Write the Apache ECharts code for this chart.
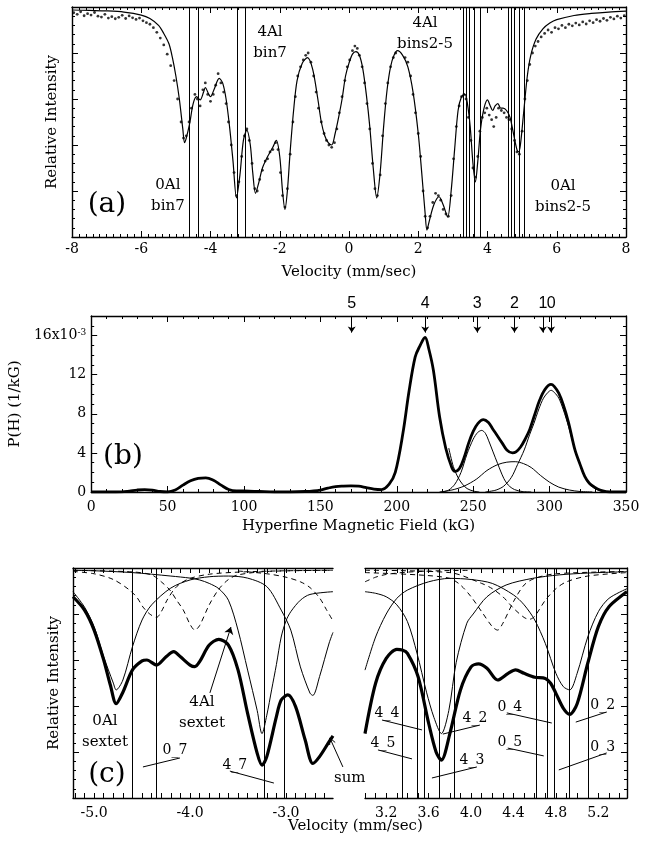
<!DOCTYPE html>
<html><head><meta charset="utf-8">
<script src="https://cdn.jsdelivr.net/npm/echarts@6/dist/echarts.min.js"></script>
<style>html,body{margin:0;padding:0;background:#fff}#c{width:651px;height:845px}</style>
</head><body><div id="c"></div>
<script>
// ---------- Panel (a): spectrum ----------
const fitA = [[-8,98.7],[-7.5,98.5],[-7,98.3],[-6.5,97.8],[-6,96.5],[-5.75,95],[-5.5,92],[-5.35,88.5],[-5.2,84],[-5.1,78],[-5,70],[-4.9,60],[-4.8,47],[-4.75,41],[-4.7,43],[-4.6,49.5],[-4.5,58],[-4.4,61],[-4.3,59.6],[-4.2,63],[-4.15,65],[-4.05,62],[-4,61],[-3.9,64],[-3.75,69],[-3.65,67],[-3.55,60],[-3.45,48],[-3.35,33],[-3.25,17],[-3.15,27],[-3.05,42],[-2.95,46.5],[-2.85,40],[-2.78,28],[-2.7,19],[-2.6,24],[-2.5,30],[-2.35,35],[-2.2,39],[-2.1,42],[-2,35],[-1.92,20],[-1.85,12],[-1.78,20],[-1.7,37],[-1.6,55],[-1.5,68],[-1.35,75.5],[-1.2,78],[-1.05,73],[-0.9,60],[-0.8,50],[-0.7,44],[-0.6,41],[-0.5,40],[-0.4,45],[-0.3,52],[-0.2,60],[-0.1,70],[0,75.6],[0.1,79.5],[0.2,80.6],[0.3,79],[0.4,73],[0.5,62],[0.6,48],[0.7,30],[0.8,17],[0.9,28],[1,48],[1.1,64],[1.2,74],[1.3,79],[1.4,81],[1.55,79],[1.7,74],[1.85,63],[2,45],[2.1,28],[2.2,10],[2.25,3],[2.32,7],[2.45,14],[2.6,17.5],[2.72,14],[2.85,8.7],[2.95,20],[3.05,38],[3.15,55],[3.25,61],[3.35,62],[3.42,58],[3.5,48],[3.58,32],[3.65,24],[3.72,33],[3.8,47],[3.9,56],[4,59.6],[4.08,57],[4.15,55],[4.22,57],[4.3,58],[4.38,56],[4.45,56],[4.55,55],[4.65,52],[4.75,45],[4.85,38],[4.9,37],[4.95,40],[5.05,55],[5.15,70],[5.25,79],[5.4,86],[5.6,90.5],[5.8,93],[6,94.5],[6.5,96.3],[7,97.2],[7.5,97.8],[8,98.2]];
const dotsA = [[-7.95,97.5],[-7.85,96.8],[-7.75,97.9],[-7.65,96.2],[-7.55,97.1],[-7.45,96.5],[-7.35,97.6],[-7.25,96.0],[-7.15,95.6],[-7.05,96.8],[-6.95,95.2],[-6.85,95.8],[-6.75,94.9],[-6.65,95.5],[-6.55,96.4],[-6.45,95.0],[-6.35,96.1],[-6.25,95.3],[-6.15,94.6],[-6.05,95.2],[-5.95,94.0],[-5.85,93.2],[-5.75,92.5],[-5.65,91.0],[-5.55,89.0],[-5.45,86.5],[-5.35,83.5],[-5.25,79.5],[-5.15,74.5],[-5.05,68],[-4.95,60],[-4.85,50],[-4.78,43],[-4.7,44],[-4.62,50],[-4.55,56],[-4.45,62],[-4.38,60],[-4.3,57],[-4.22,64],[-4.15,67],[-4.08,62],[-4.0,59],[-3.92,62],[-3.85,66],[-3.78,71],[-3.7,67],[-3.62,63],[-3.55,58],[-3.48,50],[-3.4,40],[-3.32,28],[-3.25,18],[-3.18,24],[-3.1,35],[-3.02,44],[-2.95,47],[-2.88,42],[-2.8,32],[-2.72,21],[-2.65,20],[-2.58,25],[-2.5,29],[-2.42,33],[-2.35,34],[-2.28,37],[-2.2,38],[-2.12,41],[-2.05,38],[-1.98,28],[-1.92,18],[-1.85,13],[-1.78,21],[-1.7,36],[-1.62,50],[-1.55,61],[-1.48,70],[-1.4,74],[-1.32,77],[-1.25,79],[-1.18,80],[-1.1,76],[-1.02,70],[-0.95,63],[-0.88,56],[-0.8,50],[-0.72,45],[-0.65,42],[-0.58,40],[-0.5,39],[-0.42,41],[-0.35,47],[-0.28,54],[-0.2,61],[-0.12,68],[-0.05,74],[0.02,77],[0.1,81],[0.17,83],[0.24,82],[0.3,79],[0.38,74],[0.45,67],[0.52,58],[0.6,47],[0.68,32],[0.75,21],[0.82,18],[0.9,27],[0.97,44],[1.05,58],[1.12,67],[1.2,74],[1.28,78],[1.35,80],[1.62,78],[1.7,76],[1.78,70],[1.85,62],[1.92,54],[2.0,45],[2.07,35],[2.14,20],[2.2,9],[2.27,4],[2.34,9],[2.42,15],[2.5,19],[2.58,18],[2.65,16],[2.72,12],[2.8,10],[2.87,9],[2.95,18],[3.02,34],[3.1,48],[3.18,57],[3.25,61],[3.32,62],[3.38,60],[3.45,52],[3.52,42],[3.58,30],[3.65,26],[3.72,35],[3.78,46],[3.85,52],[3.92,54],[3.98,56],[4.05,53],[4.12,51],[4.18,48],[4.25,52],[4.32,56],[4.4,55],[4.48,54],[4.55,52],[4.62,51],[4.7,47],[4.78,42],[4.85,37],[4.92,36],[5.0,46],[5.08,60],[5.15,68],[5.22,75],[5.3,80],[5.38,83],[5.46,85],[5.55,87],[5.65,88.5],[5.75,90],[5.85,89],[5.95,91],[6.05,90.5],[6.15,92],[6.25,91],[6.35,92.5],[6.45,91.8],[6.55,93],[6.65,92.2],[6.75,93.5],[6.85,92.6],[6.95,94],[7.05,93.2],[7.15,94.5],[7.25,93.8],[7.35,95],[7.45,94.2],[7.55,95.5],[7.65,94.8],[7.75,96],[7.85,95.2],[7.95,96.2]];
const binLinesA = [-4.6, -4.35, -3.22, -3.0, 3.31, 3.38, 3.47, 3.61, 3.79, 4.59, 4.68, 4.77, 4.92, 5.06];
const ticksA = [-8, -6, -4, -2, 0, 2, 4, 6, 8];

// ---------- Panel (b): field distribution (units 1e-3 / kG) ----------
const totalB = [[0,0],[10,0],[20,0.02],[25,0.1],[30,0.2],[35,0.25],[40,0.2],[45,0.05],[50,0],[55,0.2],[60,0.7],[65,1.15],[70,1.4],[75,1.45],[80,1.2],[85,0.7],[90,0.25],[95,0.1],[100,0.1],[110,0.05],[120,0],[130,0],[140,0.05],[150,0.2],[155,0.4],[160,0.55],[165,0.6],[170,0.62],[175,0.6],[180,0.45],[185,0.3],[190,0.25],[195,0.8],[199,2],[204,6],[208,10.3],[212,13.8],[215,14.9],[218.5,15.8],[221,14.6],[224,12.4],[228,7.7],[232,4.5],[236,2.5],[238,2.1],[241,2.4],[244,3.5],[247,5.0],[250,6.2],[253,7.0],[256.7,7.4],[260,7.1],[263,6.4],[266,5.7],[269,5.0],[272,4.3],[275.6,4.0],[278,4.1],[281,4.6],[284,5.4],[287,6.4],[290,7.8],[293.5,9.4],[297,10.5],[300.9,11.0],[303,10.8],[306,10.1],[309,8.9],[312.4,7.1],[316.6,4.3],[320,2.8],[323,1.6],[326,0.9],[329.4,0.5],[333,0.2],[337,0.05],[342,0],[350,0]];
const comp3B = [[230,0],[234,0.2],[238,0.8],[242,2.0],[246,3.9],[250,5.4],[253,6.1],[255.6,6.3],[258,6.0],[260,5.3],[263,4.1],[266,2.9],[270,1.4],[273,0.7],[277,0.25],[282,0.05],[288,0]];
const comp2B = [[228,0],[236,0.2],[244,0.6],[252,1.3],[259,2.2],[266,2.8],[272,3.05],[277.5,3.1],[283,2.9],[288,2.5],[294,1.7],[300,1.0],[306,0.5],[313,0.2],[320,0.05],[328,0]];
const comp0B = [[258,0],[265,0.2],[270,0.6],[275,1.5],[279,2.8],[283.4,4.3],[287,5.9],[289.7,7.0],[293,8.5],[296,9.6],[299,10.2],[301,10.4],[303,10.2],[306,9.6],[309,8.4],[312.4,6.7],[315.5,4.9],[318.7,3.3],[322,1.9],[325,1.0],[329,0.4],[333.5,0.1],[340,0]];
const comp4TailB = [[234,4.5],[237,2.6],[240,1.5],[243,0.8],[246,0.35],[250,0.1],[254,0]];
const arrowFieldsB = [170.5, 218.6, 252.7, 277, 295.6, 301];
const arrowLabelsB = ['5', '4', '3', '2', '1', '0'];
const ticksB = [0, 50, 100, 150, 200, 250, 300, 350];

// ---------- Panel (c) left: negative velocities ----------
const sumCL = [[-5.22,87.5],[-5.1,81.7],[-5.0,73],[-4.9,60],[-4.83,49],[-4.77,41],[-4.7,46],[-4.6,55.7],[-4.5,59.6],[-4.45,60],[-4.35,57.8],[-4.25,61.4],[-4.17,63.6],[-4.1,61.4],[-4.0,57.8],[-3.95,57.1],[-3.9,59.3],[-3.8,66.5],[-3.7,69],[-3.6,66.5],[-3.5,55.7],[-3.4,36.8],[-3.3,19.4],[-3.25,14.3],[-3.2,18],[-3.1,35.4],[-3.05,42.6],[-2.98,44.8],[-2.9,39.7],[-2.8,25.2],[-2.72,15],[-2.65,18],[-2.55,24.5],[-2.51,27]];
const al0CL = [[-5.22,89.7],[-5.1,83],[-5.0,74.5],[-4.9,61.4],[-4.8,50],[-4.77,47],[-4.7,51.3],[-4.6,65.8],[-4.5,77.4],[-4.4,84],[-4.2,91.3],[-4.0,94.8],[-3.8,96.2],[-3.6,96.5],[-3.4,95.6],[-3.2,91.9],[-3.05,81.7],[-2.95,73],[-2.85,57],[-2.75,45.6],[-2.72,44.6],[-2.65,52.8],[-2.55,67.4],[-2.51,72]];
const al4CL = [[-5.22,99],[-5.0,98.8],[-4.6,98],[-4.2,96.5],[-4.0,95.6],[-3.9,94.8],[-3.8,93.3],[-3.7,91],[-3.6,86],[-3.5,73],[-3.4,55.6],[-3.3,38],[-3.25,28],[-3.2,36],[-3.15,47],[-3.1,58],[-3.05,70],[-3.0,77],[-2.95,81],[-2.85,86],[-2.75,88.5],[-2.51,89.7]];
const dash1CL = [[-5.22,98.5],[-5.0,97.5],[-4.8,95],[-4.63,90.4],[-4.55,87],[-4.49,83],[-4.42,80],[-4.35,78.5],[-4.3,81],[-4.24,86],[-4.17,90.5],[-4.1,93.3],[-4.0,95.5],[-3.8,97.3],[-3.5,98.2],[-3.0,98.8],[-2.51,99]];
const dash2CL = [[-5.22,99],[-4.6,98.3],[-4.4,97],[-4.3,94],[-4.21,90.4],[-4.14,86],[-4.07,81.7],[-4.0,75.5],[-3.95,73],[-3.9,75],[-3.8,84],[-3.7,90.8],[-3.6,95],[-3.5,97],[-3.2,98.5],[-2.51,99]];
const dash3CL = [[-3.5,98.7],[-3.2,97.5],[-3.0,96],[-2.85,94],[-2.75,91.5],[-2.65,87],[-2.58,82],[-2.51,77]];
const binLinesCL = [-4.60, -4.35, -3.23, -3.02];
const ticksCL = [-5.0, -4.0, -3.0];

// ---------- Panel (c) right: positive velocities ----------
const sumCR = [[3.0,28],[3.1,49.9],[3.2,60.7],[3.3,64.6],[3.35,64.3],[3.4,62.9],[3.5,52.8],[3.6,32.5],[3.67,20],[3.72,16.5],[3.8,28],[3.9,47],[4.0,57],[4.07,58.3],[4.15,56.4],[4.25,51.3],[4.35,54.2],[4.42,55.7],[4.5,54.2],[4.6,52.5],[4.7,52],[4.75,49.9],[4.8,45.5],[4.87,39],[4.93,36.4],[5.0,41],[5.1,58.6],[5.2,74.5],[5.3,83.2],[5.47,89.7]];
const al4CR = [[3.0,89.7],[3.1,89],[3.2,87.5],[3.3,84],[3.4,76.7],[3.49,63],[3.58,46],[3.65,35],[3.72,28],[3.79,38],[3.86,59],[3.96,76],[4.02,80],[4.15,87.5],[4.33,92.6],[4.58,95.5],[4.83,97],[5.1,97.8],[5.47,98.4]];
const al0CR = [[3.0,55.6],[3.1,70],[3.2,80],[3.3,86.8],[3.4,90.4],[3.6,94],[3.8,95.5],[4.0,95],[4.2,93.3],[4.4,88.3],[4.5,84],[4.6,77.4],[4.7,67.2],[4.8,54.2],[4.87,48.4],[4.93,47],[5.0,54.2],[5.1,70],[5.2,81],[5.3,86.8],[5.47,91]];
const dash1CR = [[3.0,98],[3.5,97],[3.8,95.5],[3.9,92.6],[4.0,87.5],[4.1,81],[4.2,74.5],[4.25,73],[4.3,76],[4.4,85.4],[4.5,92.6],[4.6,95.5],[4.8,97.5],[5.47,98.5]];
const dash2CR = [[3.0,99],[3.8,98],[4.1,93.3],[4.2,91],[4.3,87.5],[4.4,82.5],[4.5,78.5],[4.55,77.7],[4.6,79],[4.7,86],[4.8,91],[4.9,94],[5.1,96.5],[5.47,98]];
const dash3CR = [[3.0,94],[3.1,96],[3.2,97.2],[3.4,98.2],[3.7,98.8],[4.0,99]];
const binLinesCR = [3.35, 3.49, 3.56, 3.70, 3.84, 4.61, 4.72, 4.78, 4.93, 5.10];
const ticksCR = [3.2, 3.6, 4.0, 4.4, 4.8, 5.2];

// ---------- chart ----------
const SERIF = 'DejaVu Serif';
const SANS = 'Liberation Sans';
const BLACK = '#000';
const chart = echarts.init(document.getElementById('c'));

function steps(a, b, s) { const r = []; for (let i = 0; a + i * s <= b + 1e-9; i++) r.push(Math.round((a + i * s) * 100) / 100); return r; }

const axLine = {show: true, onZero: false, lineStyle: {color: BLACK, width: 1.4}};
const tickLS = {color: BLACK, width: 1};
const nameTS = {color: BLACK, fontFamily: SERIF, fontSize: 15};
const labTS = {color: BLACK, fontFamily: SERIF, fontSize: 14};

function xAx(gi, min, max, pos, extra) {
  return Object.assign({gridIndex: gi, type: 'value', min, max, position: pos,
    axisLine: axLine, splitLine: {show: false}, minorSplitLine: {show: false},
    axisTick: {inside: true, length: 6, lineStyle: tickLS},
    axisLabel: {show: false}}, extra || {});
}
function yAx(gi, min, max, pos, extra) {
  return Object.assign({gridIndex: gi, type: 'value', min, max, position: pos,
    axisLine: axLine, splitLine: {show: false}, minorSplitLine: {show: false},
    axisTick: {inside: true, length: 6, lineStyle: tickLS},
    axisLabel: {show: false}}, extra || {});
}

const xAxis = [
  xAx(0, -8, 8, 'bottom', {interval: 2, minorTick: {show: true, splitNumber: 10, length: 3, lineStyle: tickLS},
    axisLabel: Object.assign({show: true, margin: 5, customValues: ticksA}, labTS),
    name: 'Velocity (mm/sec)', nameLocation: 'middle', nameGap: 28, nameTextStyle: nameTS}),
  xAx(0, -8, 8, 'top', {interval: 2, minorTick: {show: true, splitNumber: 10, length: 3, lineStyle: tickLS}}),
  xAx(1, 0, 350, 'bottom', {interval: 50, minorTick: {show: true, splitNumber: 5, length: 3, lineStyle: tickLS},
    axisLabel: Object.assign({show: true, margin: 8, customValues: ticksB}, labTS),
    name: 'Hyperfine Magnetic Field (kG)', nameLocation: 'middle', nameGap: 27, nameTextStyle: nameTS}),
  xAx(1, 0, 350, 'top', {interval: 50, minorTick: {show: true, splitNumber: 5, length: 3, lineStyle: tickLS}}),
  xAx(2, -5.22, -2.51, 'bottom', {axisTick: {inside: true, length: 5, lineStyle: tickLS, customValues: steps(-5.2, -2.6, 0.1)},
    axisLabel: Object.assign({show: true, margin: 8, customValues: ticksCL, formatter: v => Number(v).toFixed(1)}, labTS)}),
  xAx(2, -5.22, -2.51, 'top', {axisTick: {inside: true, length: 5, lineStyle: tickLS, customValues: steps(-5.2, -2.6, 0.1)}}),
  xAx(3, 3.0, 5.47, 'bottom', {axisTick: {inside: true, length: 5, lineStyle: tickLS, customValues: steps(3.0, 5.4, 0.1)},
    axisLabel: Object.assign({show: true, margin: 8, customValues: ticksCR, formatter: v => Number(v).toFixed(1)}, labTS)}),
  xAx(3, 3.0, 5.47, 'top', {axisTick: {inside: true, length: 5, lineStyle: tickLS, customValues: steps(3.0, 5.4, 0.1)}})
];

const yMinor = {show: true, splitNumber: 5, length: 3, lineStyle: tickLS};
const yAxis = [
  yAx(0, 0, 100, 'left', {interval: 20, minorTick: yMinor, name: 'Relative Intensity', nameLocation: 'middle', nameGap: 12, nameTextStyle: nameTS}),
  yAx(0, 0, 100, 'right', {interval: 20, minorTick: yMinor}),
  yAx(1, 0, 18, 'left', {interval: 4, minorTick: {show: true, splitNumber: 4, length: 3, lineStyle: tickLS},
    axisLabel: {show: true, margin: 5, showMaxLabel: false,
      formatter: v => v === 16 ? '{n|16x10}{s|-3}' : (v <= 12 ? '{n|' + v + '}' : ''),
      rich: {n: {color: BLACK, fontFamily: SERIF, fontSize: 14}, s: {color: BLACK, fontFamily: SERIF, fontSize: 9, verticalAlign: 'top'}}},
    name: 'P(H) (1/kG)', nameLocation: 'middle', nameGap: 25, nameTextStyle: nameTS}),
  yAx(1, 0, 18, 'right', {interval: 4, minorTick: {show: true, splitNumber: 4, length: 3, lineStyle: tickLS}}),
  yAx(2, 0, 100, 'left', {interval: 20, minorTick: yMinor, name: 'Relative Intensity', nameLocation: 'middle', nameGap: 11, nameTextStyle: nameTS}),
  yAx(3, 0, 100, 'right', {interval: 20, minorTick: yMinor})
];

function line(data, xi, yi, w, dashed, extra) {
  return Object.assign({type: 'line', data, xAxisIndex: xi, yAxisIndex: yi, symbol: 'none', showSymbol: false,
    smooth: 0.3, silent: true, z: 3,
    lineStyle: {color: BLACK, width: w, type: dashed ? [5, 4] : 'solid'}}, extra || {});
}
function seg(x1, y1, x2, y2, arrow) {
  return [{coord: [x1, y1], symbol: 'none'}, {coord: [x2, y2], symbol: arrow ? 'arrow' : 'none'}];
}
function marks(items) {
  return {silent: true, animation: false, symbol: ['none', 'none'], symbolSize: 7, precision: 4,
    label: {show: false}, emphasis: {disabled: true},
    lineStyle: {color: BLACK, width: 1, type: 'solid'}, data: items};
}

const series = [
  // (a)
  line(fitA, 0, 0, 1.2, false, {markLine: marks(binLinesA.map(v => ({xAxis: v})))}),
  {type: 'scatter', data: dotsA, xAxisIndex: 0, yAxisIndex: 0, symbolSize: 2.8, silent: true, itemStyle: {color: BLACK}, z: 4},
  // (b)
  line(totalB, 2, 2, 2.8, false, {smooth: 0.35, z: 4, markLine: Object.assign(marks(
    arrowFieldsB.map((f, i) => [{coord: [f, 18], symbol: 'none', name: arrowLabelsB[i]}, {coord: [f, 16.3], symbol: 'arrow'}])),
    {symbolSize: 6, label: {show: true, position: 'start', formatter: '{b}', distance: 4, color: BLACK, fontFamily: SANS, fontSize: 16}})}),
  line(comp3B, 2, 2, 1, false),
  line(comp2B, 2, 2, 1, false),
  line(comp0B, 2, 2, 1, false),
  line(comp4TailB, 2, 2, 1, false),
  // (c) left
  line(sumCL, 4, 4, 3.2, false, {z: 4, markLine: marks(
    binLinesCL.map(v => ({xAxis: v})).concat([
      seg(-3.793, 45.7, -3.574, 74.3, true),
      seg(-4.491, 13.5, -4.105, 17.4, false),
      seg(-3.585, 11.7, -3.126, 6.5, false)
    ]))}),
  line(al0CL, 4, 4, 1, false),
  line(al4CL, 4, 4, 1, false),
  line(dash1CL, 4, 4, 1, true),
  line(dash2CL, 4, 4, 1, true),
  line(dash3CL, 4, 4, 1, true),
  // (c) right
  line(sumCR, 6, 5, 3.2, false, {z: 4, markLine: marks(
    binLinesCR.map(v => ({xAxis: v})).concat([
      seg(3.16, 33.9, 3.537, 29.6, false),
      seg(3.122, 20.9, 3.443, 17, false),
      seg(4.083, 31.7, 3.734, 27.8, false),
      seg(4.055, 13.5, 3.631, 8.7, false),
      seg(4.337, 37, 4.761, 32.6, false),
      seg(4.346, 21.7, 4.685, 18.3, false),
      seg(5.279, 37.4, 4.987, 33, false),
      seg(5.279, 19.6, 4.827, 12.2, false)
    ]))}),
  line(al4CR, 6, 5, 1, false),
  line(al0CR, 6, 5, 1, false),
  line(dash1CR, 6, 5, 1, true),
  line(dash2CR, 6, 5, 1, true),
  line(dash3CR, 6, 5, 1, true)
];

chart.setOption({
  animation: false,
  backgroundColor: '#fff',
  title: {text: 'Velocity (mm/sec)', left: 288, top: 819, padding: 0,
    textStyle: {color: BLACK, fontFamily: SERIF, fontSize: 15, fontWeight: 'normal'}},
  grid: [
    {left: 72, top: 7, width: 554, height: 230},
    {left: 72, top: 316, width: 554, height: 176},
    {left: 73, top: 568, width: 260, height: 230},
    {left: 365, top: 568, width: 262, height: 230}
  ],
  xAxis, yAxis, series
});

// ---------- text annotations placed in data coordinates ----------
const annotations = [
  // [xAxisIndex, yAxisIndex, text, x, y, fontSize]
  [0, 0, '4Al\nbin7', -2.28, 84.6, 15], [0, 0, '0Al\nbin7', -5.23, 17.8, 15], [0, 0, '(a)', -6.99, 13.9, 28],
  [0, 0, '4Al\nbins2-5', 2.195, 88.3, 15], [0, 0, '0Al\nbins2-5', 6.18, 17.4, 15],
  [2, 2, '(b)', 20.8, 3.6, 28],
  [4, 4, '0Al\nsextet', -4.887, 28.9, 15], [4, 4, '4Al\nsextet', -3.876, 37.2, 15], [4, 4, '(c)', -4.866, 10, 28],
  [4, 4, '0_7', -4.157, 20.9, 14], [4, 4, '4_7', -3.533, 14.3, 14], [4, 4, 'sum', -2.335, 8.7, 15],
  [6, 5, '4_4', 3.207, 37, 14], [6, 5, '4_5', 3.169, 23.9, 14], [6, 5, '4_2', 4.036, 34.8, 14], [6, 5, '4_3', 4.008, 16.5, 14],
  [6, 5, '0_4', 4.365, 39.6, 14], [6, 5, '0_5', 4.365, 24.3, 14], [6, 5, '0_2', 5.241, 40.4, 14], [6, 5, '0_3', 5.241, 22.2, 14]
];
const graphic = annotations.map(a => {
  const p = chart.convertToPixel({xAxisIndex: a[0], yAxisIndex: a[1]}, [a[3], a[4]]);
  return {type: 'text', x: p[0], y: p[1], z: 20, silent: true,
    style: {text: a[2], fill: BLACK, font: a[5] + 'px "' + SERIF + '"', align: 'center', verticalAlign: 'middle', lineHeight: a[5] + 6}};
});
// "sum" arrow (tail lies just beyond the left panel's axis range)
const sTail = chart.convertToPixel({xAxisIndex: 4, yAxisIndex: 4}, [-2.407, 13.5]);
const sTip = chart.convertToPixel({xAxisIndex: 4, yAxisIndex: 4}, [-2.543, 26.1]);
const ang = Math.atan2(sTip[1] - sTail[1], sTip[0] - sTail[0]);
const head = a => [sTip[0] - 7 * Math.cos(ang + a), sTip[1] - 7 * Math.sin(ang + a)];
graphic.push({type: 'line', silent: true, z: 20, shape: {x1: sTail[0], y1: sTail[1], x2: sTip[0], y2: sTip[1]}, style: {stroke: BLACK, lineWidth: 1}});
graphic.push({type: 'polyline', silent: true, z: 20, shape: {points: [head(0.45), sTip, head(-0.45)]}, style: {stroke: BLACK, lineWidth: 1, fill: null}});
chart.setOption({graphic});
</script></body></html>
